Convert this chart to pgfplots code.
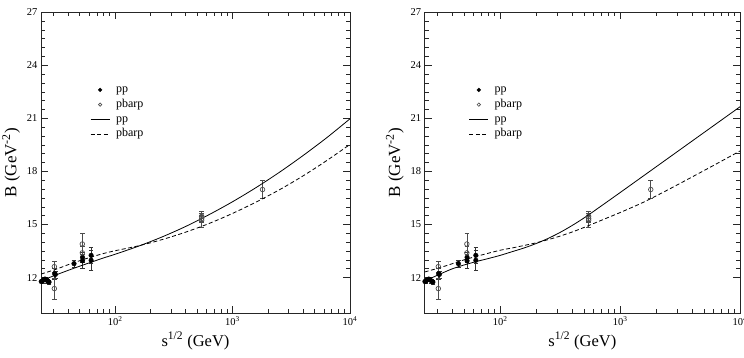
\documentclass[border=0pt]{standalone}
\usepackage{pgfplots}
\usepackage{pgfplotstable}
\pgfplotsset{compat=1.18}
\usepackage{fontspec}
\setmainfont{Liberation Serif}

% measured slopes: pp
\pgfplotstableread{
x y e
23.5 11.78 0.10
24.0 11.80 0.10
24.6 11.88 0.10
25.3 11.92 0.10
26.0 11.88 0.10
26.7 11.80 0.10
27.4 11.75 0.10
30.6 12.22 0.30
31.0 12.18 0.20
44.7 12.79 0.20
52.8 13.15 0.30
52.8 12.95 0.40
62.5 13.26 0.45
62.5 12.98 0.55
}\pptable

% measured slopes: pbarp
\pgfplotstableread{
x y e
30.4 12.62 0.30
30.4 11.38 0.60
52.6 13.90 0.60
52.6 13.40 0.40
546 15.47 0.30
546 15.25 0.40
546 15.35 0.20
1800 16.98 0.50
}\pbptable

% model curves, left panel
\pgfplotstableread{
x y
23.4 11.82
25.12 11.90
31.62 12.16
39.81 12.41
50.12 12.65
63.10 12.88
79.43 13.11
100 13.32
158.5 13.78
251.2 14.30
398.1 14.89
631.0 15.56
1000 16.29
1585 17.09
2512 17.96
3981 18.90
6310 19.90
10000 20.98
}\ppLeft
\pgfplotstableread{
x y
23.4 12.20
31.62 12.48
39.81 12.73
50.12 12.96
63.10 13.17
79.43 13.36
100 13.52
158.5 13.80
251.2 14.15
398.1 14.57
631.0 15.06
1000 15.63
1585 16.27
2512 16.97
3981 17.75
6310 18.61
10000 19.53
}\pbpLeft

% model curves, right panel
\pgfplotstableread{
x y
23.4 11.80
25.12 11.90
31.62 12.21
39.81 12.50
50.12 12.72
63.10 12.91
79.43 13.08
100 13.26
125.9 13.47
158.5 13.68
199.5 13.93
251.2 14.22
316.2 14.56
398.1 14.95
501.2 15.38
631.0 15.85
1000 16.81
1585 17.78
2512 18.75
3981 19.72
6310 20.69
10000 21.66
}\ppRight
\pgfplotstableread{
x y
23.4 12.32
31.62 12.57
39.81 12.79
50.12 13.01
63.10 13.20
79.43 13.38
100 13.55
125.9 13.68
158.5 13.82
199.5 13.97
251.2 14.15
316.2 14.35
398.1 14.58
501.2 14.84
631.0 15.12
794.3 15.40
1000 15.68
1585 16.28
2512 16.97
3981 17.69
6310 18.42
10000 19.16
}\pbpRight

% common look of both panels
\pgfplotsset{
  scale only axis,
  height=300.7pt,
  xmin=23.4, xmax=10000,
  ymin=10, ymax=27,
  ytick={12,15,18,21,24,27},
  minor y tick num=5,
  xtick={100,1000,10000},
  xticklabels={10\textsuperscript{2},10\textsuperscript{3},10\textsuperscript{4}},
  minor xtick={30,40,50,60,70,80,90,200,300,400,500,600,700,800,900,2000,3000,4000,5000,6000,7000,8000,9000},
  /pgf/number format/assume math mode=true,
  tick label style={font=\fontsize{10.5}{12}\selectfont},
  major tick length=7pt, minor tick length=4pt,
  tick style={black!85, line width=0.7pt},
  axis line style={black!85, line width=0.8pt},
  xlabel style={font=\fontsize{16.5}{18}\selectfont},
  ylabel style={font=\fontsize{17}{18}\selectfont},
  legend cell align=left,
  legend style={draw=none, fill=none, anchor=north west, inner sep=0pt,
    font=\fontsize{12}{13}\selectfont, row sep=4.2pt, column sep=6pt,
    nodes={inner sep=0pt, text height=8pt, text depth=2.5pt}},
  legend image code/.code={\draw[#1] (0pt,0pt) -- (19pt,0pt);},
}

\begin{document}
\begin{tikzpicture}[x=1pt, y=1pt]
\begin{semilogxaxis}[width=309pt, at={(41pt,44pt)}, anchor=south west,
    xlabel={s\textsuperscript{1/2} (GeV)},
    ylabel={B (GeV\textsuperscript{-2})},
    legend style={at={(0.1586,0.760)}}]
  \addplot[forget plot, only marks, mark=*, mark size=2.3pt, black,
    error bars/y dir=both, error bars/y explicit,
    error bars/error bar style={line width=0.7pt, black!80}]
    table[x=x, y=y, y error=e] {\pptable};
  \addplot[forget plot, only marks, mark=o, mark size=2.3pt, black!70,
    mark options={line width=0.7pt},
    error bars/y dir=both, error bars/y explicit,
    error bars/error bar style={line width=0.7pt, black!70}]
    table[x=x, y=y, y error=e] {\pbptable};
  \addlegendimage{legend image code/.code={\draw[black, fill=black] (9.5pt,0pt) circle (1.9pt);}}
  \addlegendentry{pp}
  \addlegendimage{legend image code/.code={\draw[black!70, line width=0.7pt] (9.5pt,0pt) circle (1.7pt);}}
  \addlegendentry{pbarp}
  \addplot[black, line width=0.8pt, smooth] table[x=x, y=y] {\ppLeft};
  \addlegendentry{pp}
  \addplot[black, line width=0.8pt, smooth, dash pattern=on 4pt off 2.5pt] table[x=x, y=y] {\pbpLeft};
  \addlegendentry{pbarp}
\end{semilogxaxis}
\begin{semilogxaxis}[width=315.3pt, at={(424.7pt,44pt)}, anchor=south west,
    xlabel={s\textsuperscript{1/2} (GeV)},
    ylabel={B (GeV\textsuperscript{-2})},
    legend style={at={(0.1396,0.760)}}]
  \addplot[forget plot, only marks, mark=*, mark size=2.3pt, black,
    error bars/y dir=both, error bars/y explicit,
    error bars/error bar style={line width=0.7pt, black!80}]
    table[x=x, y=y, y error=e] {\pptable};
  \addplot[forget plot, only marks, mark=o, mark size=2.3pt, black!70,
    mark options={line width=0.7pt},
    error bars/y dir=both, error bars/y explicit,
    error bars/error bar style={line width=0.7pt, black!70}]
    table[x=x, y=y, y error=e] {\pbptable};
  \addlegendimage{legend image code/.code={\draw[black, fill=black] (9.5pt,0pt) circle (1.9pt);}}
  \addlegendentry{pp}
  \addlegendimage{legend image code/.code={\draw[black!70, line width=0.7pt] (9.5pt,0pt) circle (1.7pt);}}
  \addlegendentry{pbarp}
  \addplot[black, line width=0.8pt, smooth] table[x=x, y=y] {\ppRight};
  \addlegendentry{pp}
  \addplot[black, line width=0.8pt, smooth, dash pattern=on 4pt off 2.5pt] table[x=x, y=y] {\pbpRight};
  \addlegendentry{pbarp}
\end{semilogxaxis}
\pgfresetboundingbox
\useasboundingbox (0,0) rectangle (744,357);
\end{tikzpicture}
\end{document}
